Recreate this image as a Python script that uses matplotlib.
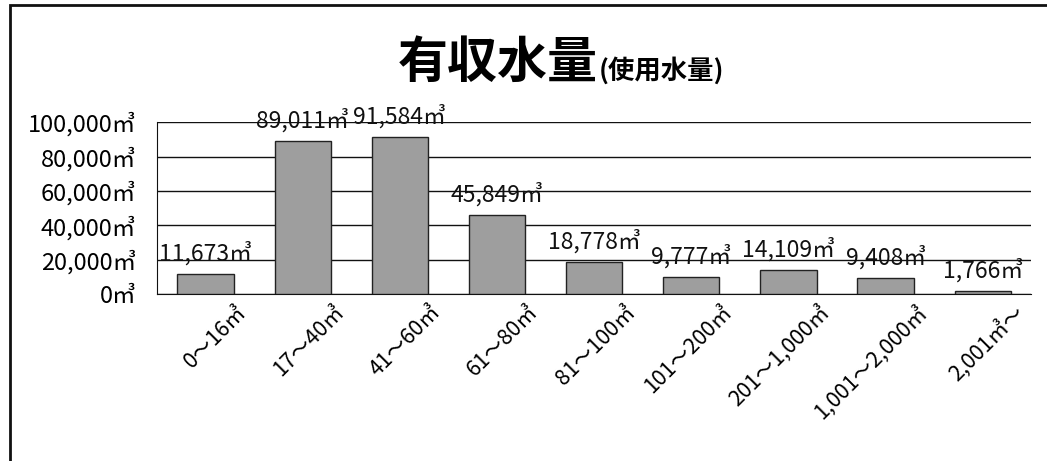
import matplotlib
matplotlib.use('Agg')
import matplotlib.pyplot as plt
import matplotlib.transforms as mtransforms
from matplotlib.patches import Rectangle

plt.rcParams['font.family'] = ['Noto Sans CJK JP', 'DejaVu Sans']

# data
categories = ['0～16㎥', '17～40㎥', '41～60㎥', '61～80㎥', '81～100㎥',
              '101～200㎥', '201～1,000㎥', '1,001～2,000㎥', '2,001㎥～']
volumes = [11673, 89011, 91584, 45849, 18778, 9777, 14109, 9408, 1766]
yticks = [0, 20000, 40000, 60000, 80000, 100000]

fig = plt.figure(figsize=(10.47, 4.61), dpi=100)
ax = fig.add_axes([0.150, 0.362, 0.835, 0.373])

x = range(len(categories))
ax.bar(x, volumes, width=0.58, color='#9e9e9e', edgecolor='#222222', linewidth=1.0, zorder=3)

for i, v in enumerate(volumes):
    ax.annotate(f'{v:,}㎥', (i, v), xytext=(0, 6), textcoords='offset points',
                ha='center', va='bottom', fontsize=16.5, color='#111111', zorder=4)

ax.set_ylim(0, 100000)
ax.set_xlim(-0.5, len(categories) - 0.5)
ax.set_yticks(yticks)
ax.set_yticklabels([f'{t:,}㎥' for t in yticks], fontsize=17)
ax.yaxis.grid(True, color='#111111', linewidth=1.0, zorder=0)
ax.tick_params(axis='y', length=0, pad=15)
ax.tick_params(axis='x', length=0, pad=5)

ax.set_xticks(list(x))
ax.set_xticklabels(categories, rotation=45, ha='right', rotation_mode='anchor', fontsize=15.5)
off = mtransforms.ScaledTranslation(0.30, 0, fig.dpi_scale_trans)
for lbl in ax.get_xticklabels():
    lbl.set_transform(lbl.get_transform() + off)

for s in ['top', 'right']:
    ax.spines[s].set_visible(False)
ax.spines['left'].set_color('#111111')
ax.spines['bottom'].set_color('#111111')

# title
fig.text(0.571, 0.83, '有収水量', ha='right', va='baseline', fontsize=36,
         fontweight='bold', family=['Noto Sans CJK JP'])
fig.text(0.572, 0.83, '(使用水量)', ha='left', va='baseline', fontsize=19,
         fontweight='bold', family=['Noto Sans CJK JP'])

# outer frame (scanned page border)
fig.patches.append(Rectangle((0.010, -0.05), 1.1, 1.04, transform=fig.transFigure,
                             fill=False, edgecolor='#111111', linewidth=2.0))

fig.savefig('out.png', dpi=100)
